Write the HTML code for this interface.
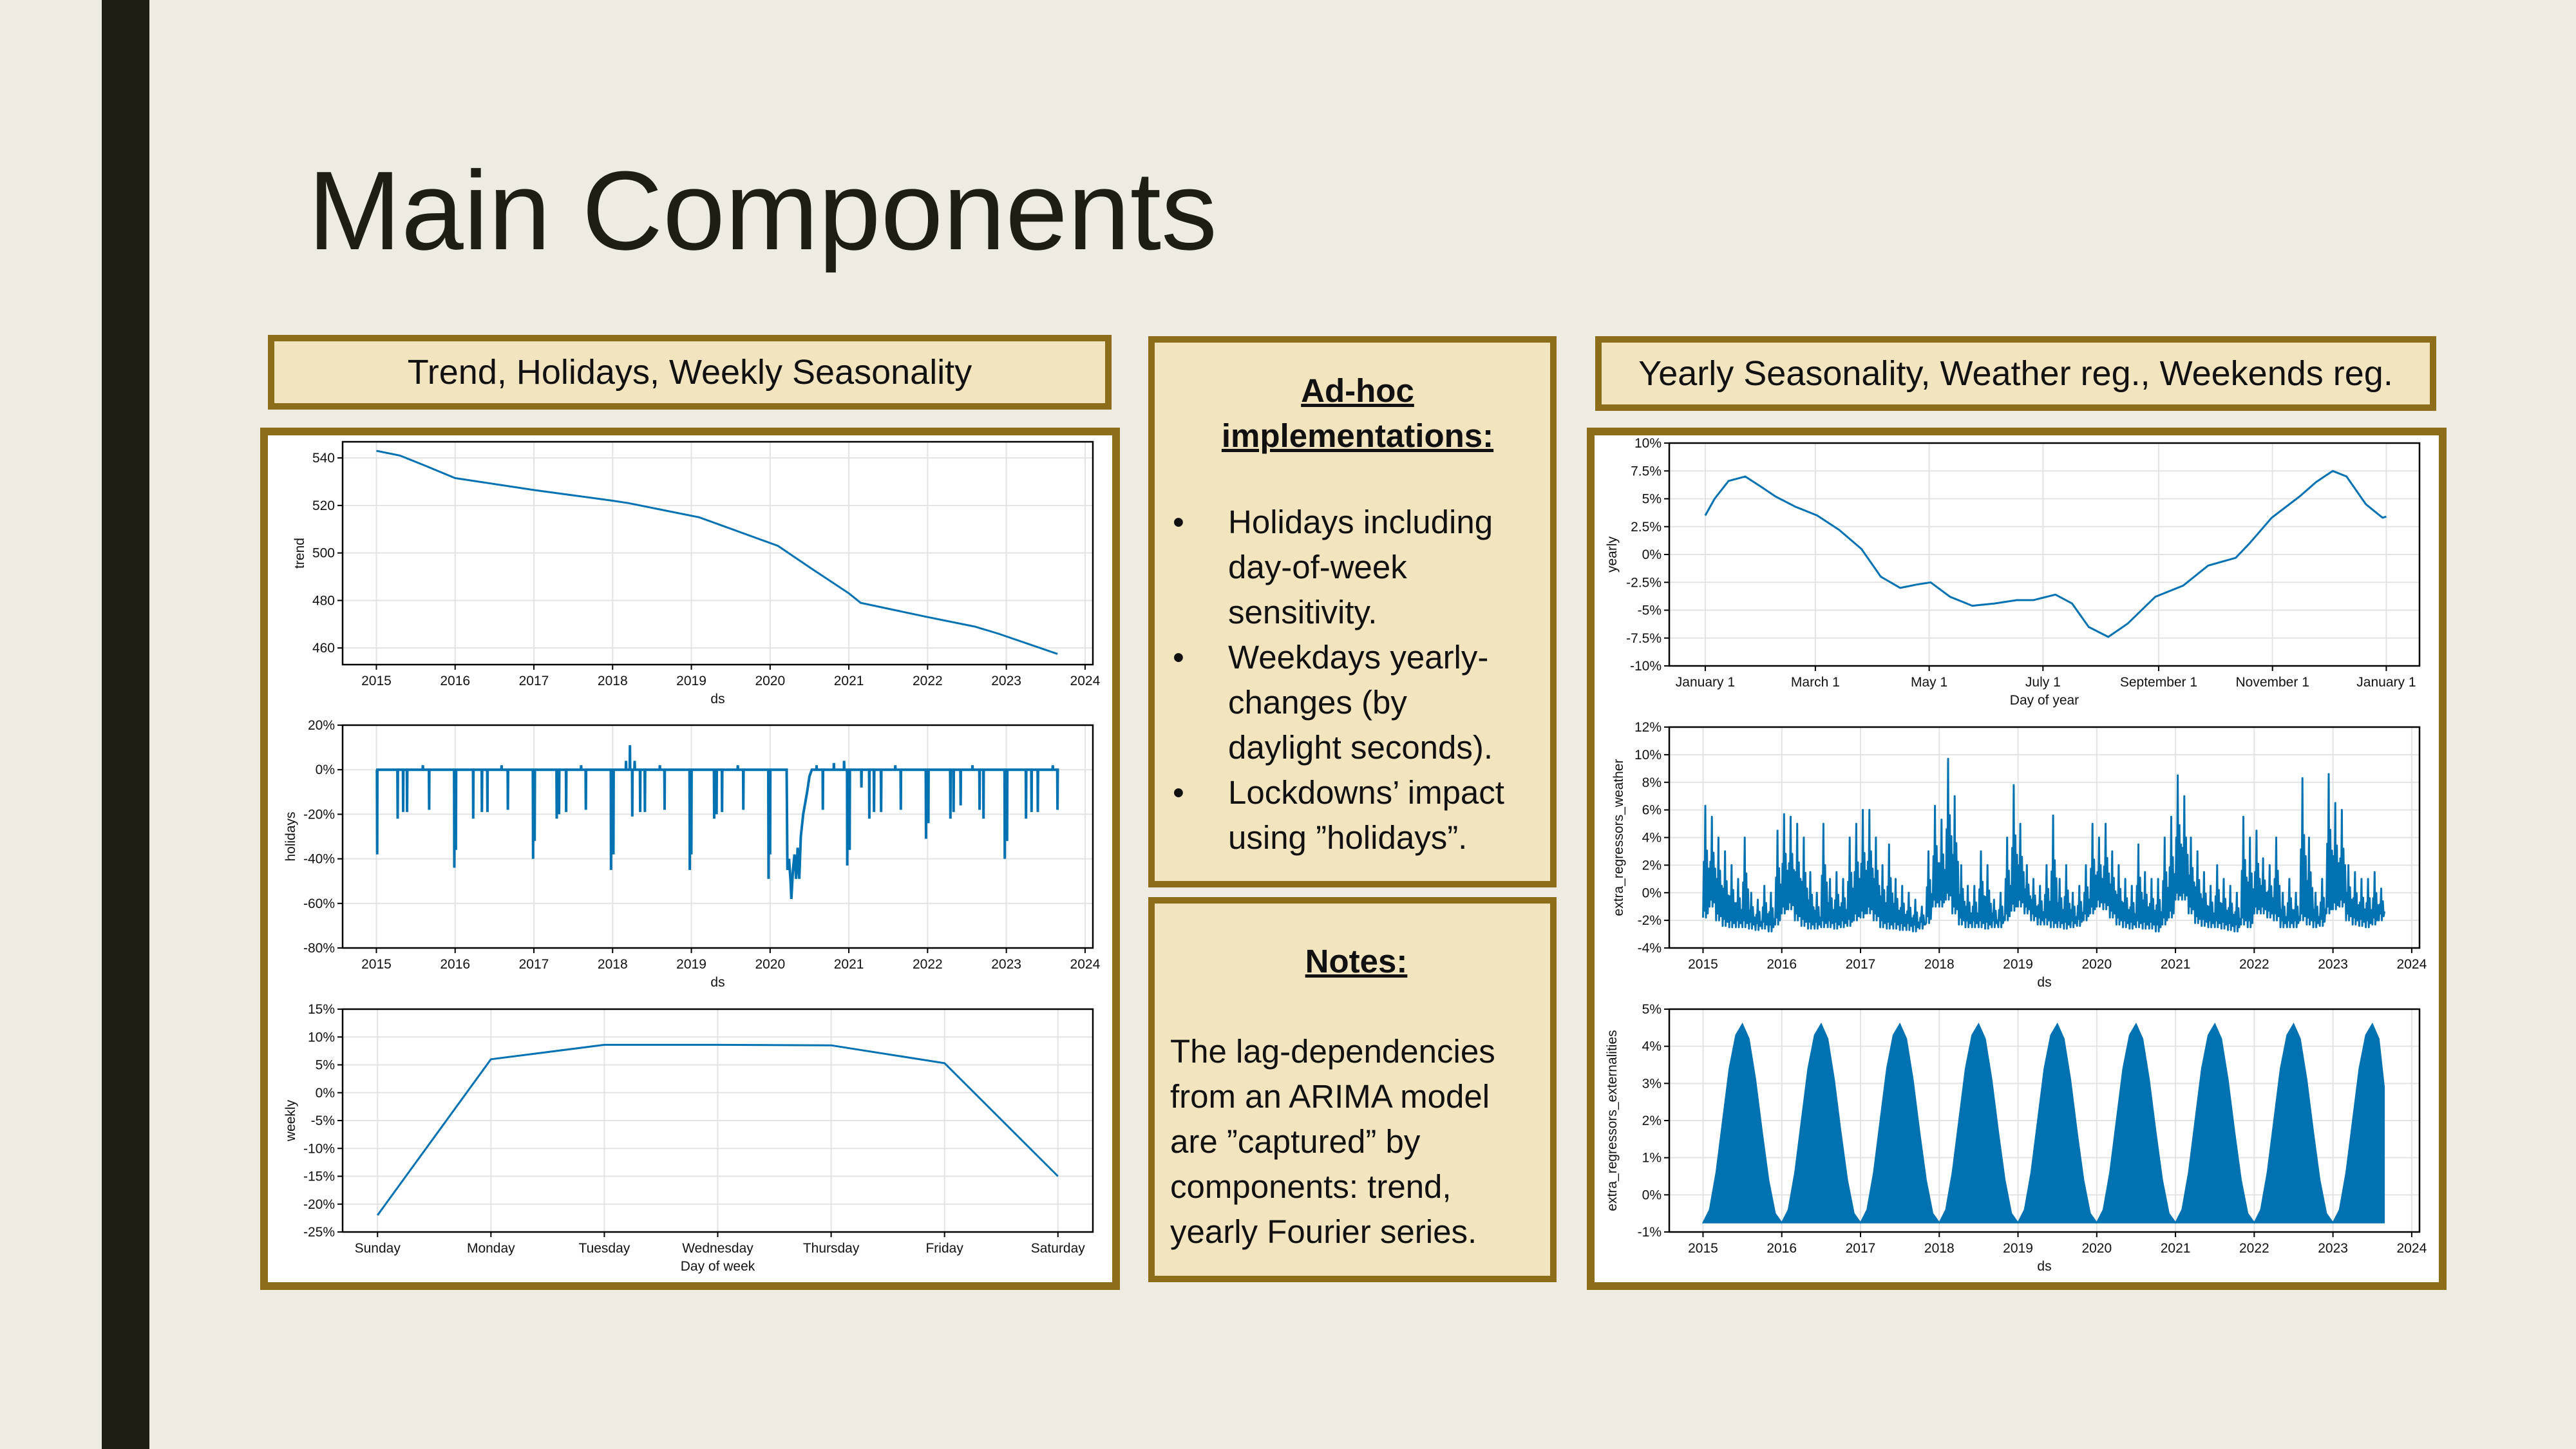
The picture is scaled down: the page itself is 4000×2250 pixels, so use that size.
<!DOCTYPE html>
<html><head><meta charset="utf-8">
<style>
html,body{margin:0;padding:0;}
body{width:4000px;height:2250px;background:#eeebe3;position:relative;overflow:hidden;font-family:"Liberation Sans",sans-serif;color:#1e1e14;}
.bar{position:absolute;left:158px;top:0;width:74px;height:2250px;background:#1e1e14;}
.title{position:absolute;left:478px;top:232px;font-size:174px;line-height:190px;color:#1e1e14;}
.hdr{position:absolute;background:#f3e4c0;border:10px solid #8b6d1a;box-sizing:border-box;font-size:54px;text-align:center;color:#111;}
.box{position:absolute;background:#f3e4c0;border:10px solid #8b6d1a;box-sizing:border-box;color:#111;font-size:51px;line-height:70px;}
.panel{position:absolute;background:#fff;border:12px solid #8b6d1a;box-sizing:border-box;}
.hd{text-align:center;font-weight:bold;text-decoration:underline;}
.bl{position:relative;padding-left:86px;white-space:nowrap;}
.bl span.dot{position:absolute;left:0;top:0;}
svg{position:absolute;left:0;top:0;}
</style></head>
<body>
<div class="bar"></div>
<div class="title">Main Components</div>
<div class="hdr" style="left:416px;top:520px;width:1310px;height:116px;line-height:96px;">Trend, Holidays, Weekly Seasonality</div>
<div class="hdr" style="left:2477px;top:522px;width:1306px;height:116px;line-height:96px;">Yearly Seasonality, Weather reg., Weekends reg.</div>
<div class="box" style="left:1783px;top:522px;width:634px;height:856px;padding:40px 12px 0 28px;">
  <div class="hd">Ad-hoc<br>implementations:</div>
  <div style="height:64px"></div>
  <div class="bl"><span class="dot">•</span>Holidays including<br>day-of-week<br>sensitivity.</div>
  <div class="bl"><span class="dot">•</span>Weekdays yearly-<br>changes (by<br>daylight seconds).</div>
  <div class="bl"><span class="dot">•</span>Lockdowns’ impact<br>using ”holidays”.</div>
</div>
<div class="box" style="left:1783px;top:1393px;width:634px;height:598px;padding:55px 12px 0 24px;">
  <div class="hd">Notes:</div>
  <div style="height:70px"></div>
  <div>The lag-dependencies from an ARIMA model are ”captured” by components: trend, yearly Fourier series.</div>
</div>
<div class="panel" style="left:404px;top:664px;width:1335px;height:1339px;"></div>
<div class="panel" style="left:2464px;top:664px;width:1335px;height:1339px;"></div>
<svg id="charts" width="4000" height="2250" xmlns="http://www.w3.org/2000/svg"></svg>
<script>
// ---- data ----
const trendYears = [2015.0,2015.3,2015.6,2016.0,2017.0,2018.0,2018.2,2019.1,2020.1,2020.5,2021.0,2021.15,2022.0,2022.6,2022.9,2023.65];
const trendValues = [543,541,537,531.5,526.5,522,521,515,503,494,483,479,473,469,466,457.5];
const holidayYears = [2015.01,2015.27,2015.34,2015.39,2015.59,2015.67,2015.99,2016.01,2016.23,2016.34,2016.41,2016.59,2016.67,2016.99,2017.01,2017.29,2017.32,2017.41,2017.60,2017.66,2017.98,2018.01,2018.17,2018.22,2018.25,2018.28,2018.35,2018.41,2018.60,2018.66,2018.98,2019.00,2019.29,2019.32,2019.39,2019.59,2019.66,2019.98,2020.00,2020.59,2020.67,2020.81,2020.94,2020.98,2021.01,2021.16,2021.26,2021.32,2021.41,2021.59,2021.66,2021.98,2022.01,2022.29,2022.33,2022.42,2022.57,2022.66,2022.71,2022.98,2023.01,2023.25,2023.32,2023.40,2023.59,2023.65];
const holidayValues = [-38,-22,-19,-19,2,-18,-44,-36,-22,-19,-19,2,-18,-40,-32,-22,-20,-19,2,-18,-45,-38,4,11,-21,4,-19,-19,2,-18,-45,-38,-22,-20,-19,2,-18,-49,-38,2,-18,3,4,-43,-36,-8,-22,-19,-19,2,-18,-31,-24,-22,-19,-16,2,-18,-22,-40,-32,-22,-19,-19,2,-18];
const lockdownYears = [2020.21,2020.22,2020.24,2020.26,2020.27,2020.29,2020.31,2020.33,2020.35,2020.37,2020.39,2020.42,2020.47,2020.50,2020.53];
const lockdownValues = [0,-45,-40,-50,-58,-45,-38,-49,-35,-49,-30,-20,-10,-3,0];
const weekdays = ["Sunday","Monday","Tuesday","Wednesday","Thursday","Friday","Saturday"];
const weeklyValues = [-22,6,8.6,8.6,8.5,5.3,-15];
const yearlyDays = [0,5,12.5,21.4,28.8,37.7,48.1,60,71.8,83.7,94.1,104.5,113.4,120.8,131.2,143.1,155,166.9,175.8,187.7,196.6,205.5,216,226.4,241.2,256.1,269.5,284.3,291.7,303.6,318.5,327.4,336.3,343.7,354.1,363,365];
const yearlyValues = [3.5,5,6.6,7.0,6.2,5.2,4.3,3.5,2.2,0.5,-2.0,-3.0,-2.7,-2.5,-3.8,-4.6,-4.4,-4.1,-4.1,-3.6,-4.4,-6.5,-7.4,-6.2,-3.8,-2.8,-1.0,-0.3,1,3.3,5.2,6.5,7.5,7.0,4.5,3.3,3.4];
const weatherHigh = [6.3,5.5,4,3,2,1,4,0,-0.5,0.5,0,4.5, 5.7,5.5,5,4,1.5,0,5,1,1.5,1,4,5, 6,6,4,2,3.5,1,0.5,0,-0.5,-1,3,6.3, 5.3,9.7,7,2,0.5,0.5,3,2,-0.5,0,4,7.8, 5,2,1,0.5,2,5.6,1,2,0,0.5,2,5, 4,5,3,2,1,0.5,3.5,1.5,1,1,4,5.5, 8.5,7,4,3,1.5,0.5,2,1,0.5,0,5.5,4, 4.5,2.5,2,4,0,1,0,8.3,4,0,1,8.6, 6.5,6,2,1.5,1,1,1.5,0.3];
const weatherLow = [-1.8,-1,-2,-2.4,-2.5,-2.5,-2.5,-2.6,-2.7,-2.6,-2.8,-2.3, -1.5,-1.2,-2,-2.4,-2.6,-2.6,-2.5,-2.5,-2.6,-2.5,-2.4,-2, -1.8,-1.5,-2,-2.5,-2.6,-2.6,-2.7,-2.7,-2.8,-2.6,-2.2,-1, -1,-0.5,-1.5,-2.3,-2.5,-2.5,-2.5,-2.6,-2.5,-2.5,-2,-1.3, -1,-1.5,-2,-2.3,-2.3,-2.5,-2.5,-2.6,-2.5,-2.4,-2,-1.5, -1,-1.2,-1.8,-2.3,-2.5,-2.6,-2.5,-2.6,-2.6,-2.8,-2.3,-1.8, -0.5,-0.5,-1.5,-2.2,-2.4,-2.5,-2.5,-2.6,-2.7,-2.8,-2.3,-2.5, -1.5,-1.5,-1.8,-2,-2.5,-2.5,-2.5,-2,-2.3,-2.5,-2.4,-1.5, -1.2,-1,-2,-2.3,-2.4,-2.5,-2.3,-2];
const extMonthProfile = [-0.75,-0.4,0.6,2.0,3.4,4.3,4.6,4.2,3.1,1.7,0.4,-0.5];
const extYears = [2015,2016,2017,2018,2019,2020,2021,2022,2023];
const yearTicks = [2015,2016,2017,2018,2019,2020,2021,2022,2023,2024];
const monthTickDays = [0,59,120,181,243,304,365];
const monthTickLabels = ["January 1","March 1","May 1","July 1","September 1","November 1","January 1"];

const NS="http://www.w3.org/2000/svg";
const root=document.getElementById('charts');
function el(tag,attrs,parent){const e=document.createElementNS(NS,tag);for(const k in attrs)e.setAttribute(k,attrs[k]);(parent||root).appendChild(e);return e;}
const BLUE="#0072b2";
function chart(name,x0,y0,w,h,xd,yd,xticks,xlabels,yticks,ylabels,xtitle,ytitle,ylOff){
  const g=el('g',{});
  
  
  const sx=v=>x0+(v-xd[0])/(xd[1]-xd[0])*w;
  const sy=v=>y0+(yd[1]-v)/(yd[1]-yd[0])*h;
  xticks.forEach((t,i)=>{const x=sx(t);
    const gl=el('line',{x1:x,x2:x,y1:y0,y2:y0+h,stroke:'#e3e3e3','stroke-width':2},g);
    
    el('line',{x1:x,x2:x,y1:y0+h,y2:y0+h+8,stroke:'#000','stroke-width':2},g);
    const tx=el('text',{x:x,y:y0+h+32,'text-anchor':'middle','font-size':21,fill:'#111'},g);tx.textContent=xlabels[i];
    });
  yticks.forEach((t,i)=>{const y=sy(t);
    const gl=el('line',{x1:x0,x2:x0+w,y1:y,y2:y,stroke:'#e3e3e3','stroke-width':2},g);
    
    el('line',{x1:x0-8,x2:x0,y1:y,y2:y,stroke:'#000','stroke-width':2},g);
    const tx=el('text',{x:x0-12,y:y+7,'text-anchor':'end','font-size':21,fill:'#111'},g);tx.textContent=ylabels[i];
    });
  const xt=el('text',{x:x0+w/2,y:y0+h+60,'text-anchor':'middle','font-size':21,fill:'#111'},g);xt.textContent=xtitle;
  
  const yx=x0-ylOff, yy=y0+h/2;
  const yt=el('text',{x:yx,y:yy,'text-anchor':'middle','font-size':21,fill:'#111',transform:`rotate(-90 ${yx} ${yy})`},g);yt.textContent=ytitle;
  
  const fr=el('rect',{x:x0,y:y0,width:w,height:h,fill:'none',stroke:'#000','stroke-width':2.5},g);
  
  return {g,sx,sy};
}
function pathOf(pts,c){return pts.map((p,i)=>(i?'L':'M')+c.sx(p[0]).toFixed(1)+' '+c.sy(p[1]).toFixed(1)).join(' ');}
const YD=[2014.571,2024.099];
const yl=yearTicks.map(String);
// trend
let c=chart('trend-chart',532,686,1165,346,YD,[453,546.8],yearTicks,yl,[460,480,500,520,540],['460','480','500','520','540'],'ds','trend',60);
let p=el('path',{d:pathOf(trendYears.map((y,i)=>[y,trendValues[i]]),c),fill:'none',stroke:BLUE,'stroke-width':3},c.g);

// holidays
c=chart('holidays-chart',532,1126,1165,346,YD,[-80,20],yearTicks,yl,[-80,-60,-40,-20,0,20],['-80%','-60%','-40%','-20%','0%','20%'],'ds','holidays',74);
let hp=[[2015.0,0]];
const ev=holidayYears.map((y,i)=>[y,holidayValues[i]]);
let merged=[];
ev.forEach(e=>merged.push({t:e[0],pts:[[e[0]-0.003,0],[e[0],e[1]],[e[0]+0.003,0]]}));
merged.push({t:2020.21,pts:lockdownYears.map((y,i)=>[y,lockdownValues[i]])});
merged.sort((a,b)=>a.t-b.t);
merged.forEach(m=>hp=hp.concat(m.pts));
hp.push([2023.65,0]);
p=el('path',{d:pathOf(hp,c),fill:'none',stroke:BLUE,'stroke-width':4},c.g);

// weekly
c=chart('weekly-chart',532,1567,1165,346,[-0.308,6.308],[-25,15],[0,1,2,3,4,5,6],weekdays,[-25,-20,-15,-10,-5,0,5,10,15],['-25%','-20%','-15%','-10%','-5%','0%','5%','10%','15%'],'Day of week','weekly',74);
p=el('path',{d:pathOf(weeklyValues.map((v,i)=>[i,v]),c),fill:'none',stroke:BLUE,'stroke-width':3},c.g);

// yearly
c=chart('yearly-chart',2592,688,1165,346,[-19.3,382.8],[-10,10],monthTickDays,monthTickLabels,[-10,-7.5,-5,-2.5,0,2.5,5,7.5,10],['-10%','-7.5%','-5%','-2.5%','0%','2.5%','5%','7.5%','10%'],'Day of year','yearly',82);
p=el('path',{d:pathOf(yearlyDays.map((d,i)=>[d,yearlyValues[i]]),c),fill:'none',stroke:BLUE,'stroke-width':3,'stroke-linejoin':'round'},c.g);

// weather
c=chart('weather-chart',2592,1129,1165,343,YD,[-4,12],yearTicks,yl,[-4,-2,0,2,4,6,8,10,12],['-4%','-2%','0%','2%','4%','6%','8%','10%','12%'],'ds','extra_regressors_weather',72);
let wp=[];
weatherHigh.forEach((hi,m)=>{const t=2015+m/12, lo=weatherLow[m], d=1/12;
  wp.push([t,lo],[t+0.12*d,(hi+lo)/2],[t+0.22*d,lo+0.5],[t+0.35*d,hi],[t+0.45*d,lo],[t+0.6*d,(hi*0.6+lo*0.4)],[t+0.72*d,lo+0.3],[t+0.85*d,(hi+lo)/2-0.5]);});
p=el('path',{d:pathOf(wp,c),fill:'none',stroke:BLUE,'stroke-width':3,'stroke-linejoin':'round'},c.g);

// externalities
c=chart('externalities-chart',2592,1567,1165,346,YD,[-1,5],yearTicks,yl,[-1,0,1,2,3,4,5],['-1%','0%','1%','2%','3%','4%','5%'],'ds','extra_regressors_externalities',82);
let ep=[[2015.0,-0.75]];
extYears.forEach(y=>extMonthProfile.forEach((v,m)=>{const t=y+m/12; if(t<=2023.65) ep.push([t,v]);}));
ep.push([2023.65,2.9],[2023.65,-0.75]);
p=el('path',{d:pathOf(ep,c)+' Z',fill:BLUE,stroke:BLUE,'stroke-width':2},c.g);

</script>
</body></html>
